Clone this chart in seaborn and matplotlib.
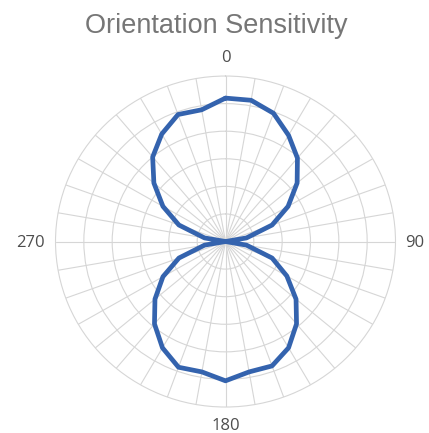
import numpy as np
import pandas as pd
import matplotlib
matplotlib.use("Agg")
import matplotlib.pyplot as plt
import seaborn as sns

# Daten: Winkel (Grad) und Empfindlichkeit
winkel = list(range(0, 361, 10))
empfindlichkeit = [1.04, 1.04, 0.99, 0.89, 0.79, 0.66, 0.51, 0.35, 0.15, 0.0,
                   0.15, 0.35, 0.50, 0.65, 0.78, 0.89, 0.96, 0.96, 1.01, 0.96,
                   0.97, 0.89, 0.78, 0.65, 0.51, 0.35, 0.15, 0.0, 0.15, 0.35,
                   0.51, 0.66, 0.80, 0.90, 0.98, 0.97, 1.04]
haupt_winkel = [0, 90, 180, 270]
ringe = [0.2, 0.4, 0.6, 0.8, 1.0]
r_max = 1.2

df = pd.DataFrame({"theta": np.deg2rad(winkel), "r": empfindlichkeit})

sns.set_style("white")
plt.rcParams["font.family"] = ["Liberation Sans", "DejaVu Sans"]

fig = plt.figure(figsize=(4.29, 4.33), dpi=100)
ax = fig.add_axes([0.1294, 0.060, 0.7925, 0.7644], projection="polar")
ax.set_aspect("auto")
ax.set_theta_zero_location("N")
ax.set_theta_direction(-1)

grid_farbe = "#d6d6d6"
sns.lineplot(data=df, x="theta", y="r", ax=ax, sort=False, estimator=None,
             color="#3463ae", linewidth=3.4)

ax.set_ylim(0, r_max)
ax.set_rgrids(ringe, labels=[""] * len(ringe))
ax.set_thetagrids(list(range(0, 360, 10)), labels=[""] * 36)
ax.grid(True, color=grid_farbe, linewidth=0.8)
ax.spines["polar"].set_color(grid_farbe)
ax.spines["polar"].set_linewidth(0.8)
ax.set_xlabel("")
ax.set_ylabel("")

# Winkelbeschriftungen am Rand
versatz = {0: (0, 10.4, "center"), 90: (6.8, -3.6, "left"),
           180: (0, -16.2, "center"), 270: (-7.6, -3.6, "right")}
for w in haupt_winkel:
    dx, dy, ha = versatz[w]
    ax.annotate(str(w), xy=(np.deg2rad(w), r_max), xytext=(dx, dy),
                textcoords="offset points", ha=ha, va="baseline",
                fontsize=12, color="#4d4d4d",
                family=["Open Sans", "DejaVu Sans"], annotation_clip=False)

fig.text(0.5035, 1 - 33 / 433, "Orientation Sensitivity", ha="center",
         va="baseline", fontsize=19.5, color="#767676")

plt.savefig("out.png", dpi=100)
